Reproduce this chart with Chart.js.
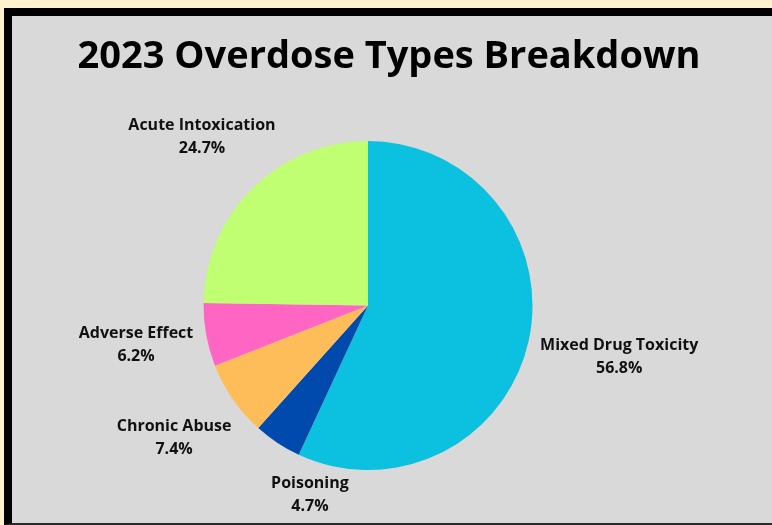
<!DOCTYPE html>
<html>
<head>
<meta charset="utf-8">
<script src="https://cdn.jsdelivr.net/npm/chart.js@4"></script>
<style>
  body { margin: 0; background: #fff2cc; width: 772px; height: 525px; overflow: hidden; }
  #panel {
    position: absolute; left: 4px; top: 8px;
    width: 800px; height: 507px;
    background: #d9d9d9;
    border-left: 8px solid #000; border-top: 8px solid #000; border-bottom: 2px solid #2b2b2b;
  }
  #wrap { position: absolute; left: 0; top: 0; width: 754px; height: 507px; }
</style>
</head>
<body>
<div id="panel"><div id="wrap"><canvas id="overdoseChart"></canvas></div></div>
<script>
const chartTitle = "2023 Overdose Types Breakdown";
const types = ["Mixed Drug Toxicity", "Poisoning", "Chronic Abuse", "Adverse Effect", "Acute Intoxication"];
const shares = [56.8, 4.7, 7.4, 6.2, 24.7];
const sliceColors = ["#0cc0df", "#004aad", "#ffbd59", "#ff66c4", "#c1ff72"];

// how far each label sits from the pie edge, and a small angle nudge (degrees)
const labelGap = [91.7, 32.3, 70, 70.7, 73];
const labelTurn = [-1.1, -16.2, 0.6, 0.8, 0.2];

// title drawn across the full canvas width (the pie sits left of centre)
const titleText = {
  id: "titleText",
  afterDraw(chart) {
    const ctx = chart.ctx;
    ctx.save();
    ctx.fillStyle = "#000";
    ctx.textAlign = "center";
    ctx.textBaseline = "alphabetic";
    ctx.font = "700 38px 'Open Sans'";
    ctx.fillText(chartTitle, chart.width / 2, 52);
    ctx.restore();
  }
};

const sliceLabels = {
  id: "sliceLabels",
  afterDatasetsDraw(chart) {
    const ctx = chart.ctx;
    const arcs = chart.getDatasetMeta(0).data;
    ctx.save();
    ctx.fillStyle = "#111";
    ctx.textAlign = "center";
    ctx.textBaseline = "alphabetic";
    ctx.font = "700 16px 'Open Sans'";
    arcs.forEach((arc, i) => {
      const p = arc.getProps(["x", "y", "startAngle", "endAngle", "outerRadius"], true);
      const a = (p.startAngle + p.endAngle) / 2 + labelTurn[i] * Math.PI / 180;
      const r = p.outerRadius + labelGap[i];
      const x = p.x + Math.cos(a) * r;
      const y = p.y + Math.sin(a) * r;
      ctx.fillText(types[i], x, y - 6);
      ctx.fillText(shares[i].toFixed(1) + "%", x, y + 17);
    });
    ctx.restore();
  }
};

function renderChart() {
  const ctx = document.getElementById("overdoseChart").getContext("2d");
  new Chart(ctx, {
    type: "pie",
    data: {
      labels: types,
      datasets: [{
        data: shares,
        backgroundColor: sliceColors,
        borderWidth: 0
      }]
    },
    options: {
      responsive: true,
      maintainAspectRatio: false,
      animation: false,
      layout: { padding: { left: 0, right: 42, top: 125, bottom: 53 } },
      plugins: {
        legend: { display: false },
        tooltip: { enabled: false },
        title: { display: false }
      }
    },
    plugins: [sliceLabels, titleText]
  });
}

window.onload = renderChart;
</script>
</body>
</html>
